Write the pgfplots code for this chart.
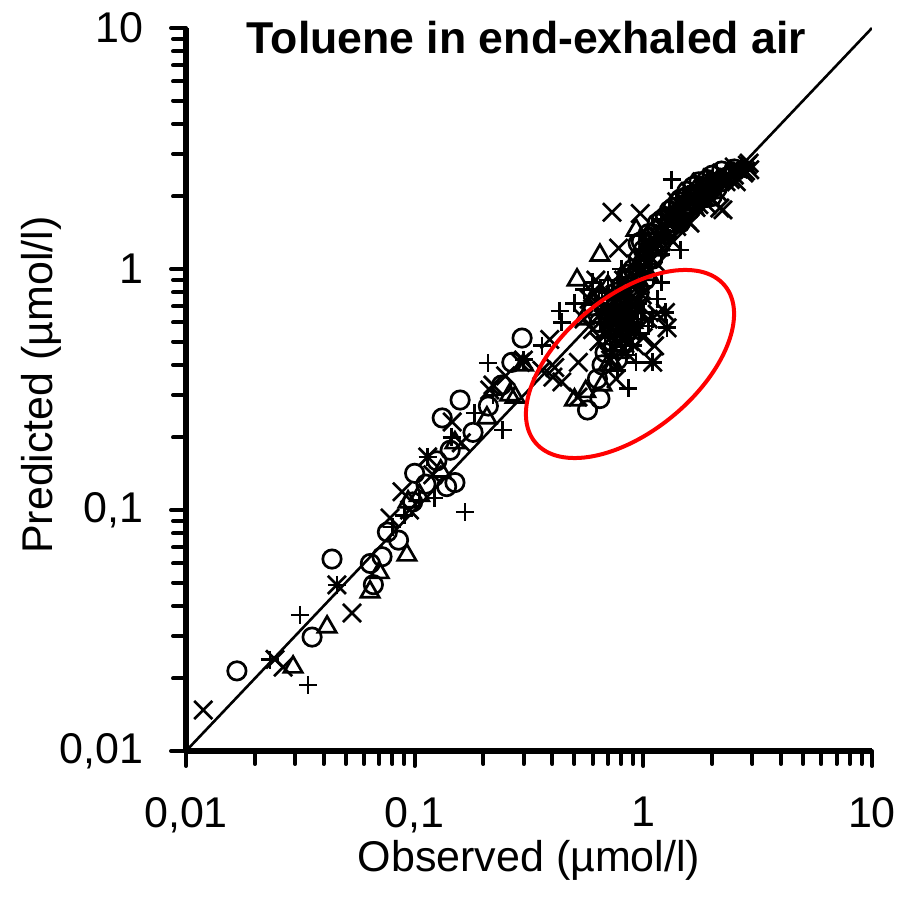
\documentclass[border=0pt]{standalone}
\usepackage{fontspec}
\setmainfont{Liberation Sans}
\usepackage{pgfplots}
\pgfplotsset{compat=1.18}
\newcommand{\lblfont}{\fontsize{21.5}{24}\selectfont}
\begin{document}
\begin{tikzpicture}
\useasboundingbox (0,0) rectangle (458.5pt,450.5pt);
\begin{axis}[
  at={(93pt,75pt)}, anchor=south west,
  scale only axis, width=343pt, height=361.5pt,
  xmode=log, ymode=log,
  xmin=0.01, xmax=10, ymin=0.01, ymax=10,
  axis lines*=left,
  axis line style={line width=2.6pt},
  every outer x axis line/.append style={line width=2.6pt},
  every outer y axis line/.append style={line width=2.6pt},
  tick align=outside,
  major tick length=7.5pt, minor tick length=6.5pt,
  tick style={black, line width=2pt, line cap=round},
  major tick style={black, line width=2pt, line cap=round},
  minor tick style={black, line width=2pt, line cap=round},
  xtick={0.01,0.1,1,10}, xticklabels={{0,01},{0,1},1,10},
  ytick={0.01,0.1,1,10}, yticklabels={{0,01},{0,1},1,10},
  minor xtick={0.02,0.03,0.04,0.05,0.06,0.07,0.08,0.09,0.2,0.3,0.4,0.5,0.6,0.7,0.8,0.9,2,3,4,5,6,7,8,9},
  minor ytick={0.02,0.03,0.04,0.05,0.06,0.07,0.08,0.09,0.2,0.3,0.4,0.5,0.6,0.7,0.8,0.9,2,3,4,5,6,7,8,9},
  tick label style={font=\lblfont},
  xticklabel style={anchor=north, yshift=-12pt},
  yticklabel style={anchor=east, xshift=-10.5pt},
]
\addplot[black, line width=1.3pt, mark=none] coordinates {(0.01,0.01) (10,10)};
% circles
\addplot[only marks, mark=o, mark size=4.6pt, mark options={black, line width=1.35pt, fill=none}] coordinates {
(0.0167,0.0215) (0.0356,0.0297) (0.0435,0.0626) (0.064,0.060) (0.066,0.049) (0.072,0.064)
(0.076,0.081) (0.085,0.075) (0.098,0.108) (0.100,0.142) (0.112,0.128) (0.125,0.16)
(0.132,0.241) (0.138,0.125) (0.143,0.177) (0.150,0.130) (0.158,0.286) (0.18,0.21)
(0.21,0.27) (0.24,0.33) (0.266,0.41) (0.295,0.517)
(0.57,0.26) (0.646,0.29) (0.63,0.35) (0.66,0.40) (0.68,0.45) (0.70,0.50) (0.72,0.56)
(0.74,0.47) (0.75,0.64) (0.77,0.42) (0.78,0.52) (0.80,0.58) (0.82,0.75) (0.84,0.66)
(0.86,0.55) (0.88,0.82) (0.90,0.70) (0.92,0.95) (0.95,1.28) (0.96,0.80) (1.0,1.05)
(1.02,0.90) (1.05,1.2)
(0.80,0.85) (0.85,0.95) (0.9,1.0) (0.95,1.1) (1.0,1.2) (1.05,1.3) (1.1,1.4) (1.2,1.3)
(1.3,1.5) (1.4,1.6) (1.5,1.7) (1.6,1.85) (1.7,1.9) (1.8,2.2) (2.0,2.0) (2.1,2.15) (2.3,2.4)
(0.72,0.65) (0.76,0.72) (0.8,0.66) (0.74,0.58) (0.86,0.62) (0.9,0.78) (0.84,0.9) (0.76,0.80)
(0.7,0.62) (0.68,0.7) (0.64,0.6)
(1.25,1.65) (1.35,1.8) (1.45,1.95) (1.55,2.1) (1.65,2.2) (1.75,2.3) (1.9,2.35) (2.0,2.45)
(2.2,2.55) (2.5,2.6) (1.15,1.55) (1.05,1.4) (0.98,1.3)
(1.08,1.35) (1.1,1.10) (1.15,1.45) (1.18,1.25) (1.2,1.6) (1.25,1.40) (1.3,1.75)
(1.32,1.55) (1.38,1.65) (1.42,1.90) (1.45,1.55) (1.5,1.80) (1.55,2.0) (1.6,1.75)
(1.65,1.95) (1.7,2.05) (1.8,2.0) (1.85,2.15) (1.95,2.10) (2.05,2.25) (2.2,2.3) (2.4,2.45)
};
% triangles
\addplot[only marks, mark=triangle, mark size=5.3pt, mark options={black, line width=1.35pt, fill=none}] coordinates {
(0.0294,0.0223) (0.0414,0.0327) (0.0638,0.0457) (0.070,0.055) (0.0925,0.065) (0.0936,0.108)
(0.105,0.115) (0.13,0.145) (0.15,0.19) (0.207,0.241) (0.275,0.294) (0.299,0.40) (0.26,0.30)
(0.50,0.286) (0.56,0.31) (0.66,0.33) (0.70,0.40) (0.74,0.55) (0.78,0.62) (0.82,0.48)
(0.86,0.70) (0.90,0.60) (0.513,0.90) (0.646,1.14) (0.93,1.45) (0.98,1.10) (1.05,0.95)
(0.72,0.62) (0.8,0.7) (0.84,0.58) (0.88,0.8) (0.95,0.9) (0.7,0.85) (0.6,0.75) (1.0,1.15)
(1.15,1.2) (1.25,1.35) (1.45,1.6) (1.65,1.8) (0.78,0.45) (0.74,0.40) (0.58,0.68) (0.55,0.62)
(1.1,1.30) (1.2,1.40) (1.3,1.50) (1.4,1.70) (1.55,1.85) (1.7,1.95) (1.9,2.2) (2.1,2.3)
};
% plus
\addplot[only marks, mark=+, mark size=4.5pt, mark options={black, line width=1.35pt}] coordinates {
(0.0233,0.0239) (0.0315,0.0367) (0.0342,0.0188) (0.0457,0.0489) (0.080,0.085) (0.090,0.095)
(0.105,0.110) (0.114,0.166) (0.122,0.112) (0.145,0.20) (0.166,0.098) (0.183,0.253)
(0.209,0.407) (0.22,0.30) (0.243,0.215) (0.30,0.42) (0.36,0.48) (0.43,0.67) (0.44,0.60)
(0.50,0.72) (0.55,0.82) (0.60,0.88) (0.62,0.72) (0.65,0.60) (0.68,0.52) (0.70,0.80)
(0.72,0.46) (0.74,0.66) (0.76,0.58) (0.77,0.38) (0.79,0.75) (0.80,0.50) (0.82,0.64)
(0.84,0.44) (0.86,0.32) (0.87,0.70) (0.88,0.56) (0.90,0.48) (0.93,0.41) (0.94,0.62)
(0.96,0.54) (1.0,0.66) (1.05,0.58) (1.1,0.62) (1.2,0.88) (1.15,0.75) (1.0,0.85)
(1.25,0.66) (1.27,0.57) (1.1,0.41)
(0.75,0.70) (0.78,0.62) (0.81,0.56) (0.83,0.78) (0.85,0.60) (0.89,0.66) (0.91,0.58)
(0.95,0.72) (0.98,0.62) (0.72,0.58) (0.7,0.68) (0.66,0.75) (0.64,0.82) (0.7,0.9) (0.78,0.9)
(0.85,0.85) (0.92,0.88) (1.0,0.95) (0.9,1.0) (0.8,1.0) (1.15,1.3) (1.25,1.5) (1.4,1.55)
(1.6,1.7) (1.75,2.0) (2.1,2.25) (2.3,2.4) (2.5,2.5) (2.7,2.65)
(1.5,2.0) (1.7,2.2) (1.9,2.35) (2.1,2.5) (2.4,2.6) (2.7,2.7) (1.3,1.75) (1.2,1.6)
(1.05,1.05) (1.1,1.2) (1.2,1.15) (1.3,1.35) (1.33,2.35) (1.45,1.20) (1.5,1.65) (1.6,1.9)
(1.7,1.85) (1.8,2.1) (1.9,1.95) (2.0,2.2) (2.2,2.35) (2.4,2.4) (2.6,2.55) (2.8,2.6)
};
% crosses
\addplot[only marks, mark=x, mark size=6.4pt, mark options={black, line width=1.35pt}] coordinates {
(0.0119,0.0148) (0.0245,0.0240) (0.0266,0.0223) (0.0457,0.0489) (0.0532,0.0374) (0.078,0.0927)
(0.088,0.119) (0.095,0.10) (0.114,0.166) (0.120,0.14) (0.146,0.232) (0.16,0.19)
(0.213,0.315) (0.22,0.33) (0.25,0.36) (0.29,0.41) (0.299,0.419) (0.36,0.38) (0.39,0.51)
(0.402,0.356) (0.41,0.39) (0.44,0.34) (0.52,0.41) (0.518,0.294) (0.55,0.62) (0.60,0.56)
(0.64,0.50) (0.67,0.70) (0.70,0.60) (0.72,0.42) (0.73,1.72) (0.75,0.78) (0.76,0.35)
(0.77,0.50) (0.78,1.22) (0.80,0.68) (0.82,0.58) (0.84,0.45) (0.86,0.74) (0.88,0.55)
(0.90,0.64) (0.92,0.48) (0.95,0.85) (0.97,1.70) (0.98,0.70) (1.0,0.52) (1.05,0.62)
(1.1,0.41) (1.12,0.48) (1.15,0.65) (1.25,0.66) (1.27,0.57)
(0.74,0.62) (0.79,0.56) (0.83,0.66) (0.87,0.50) (0.91,0.72) (0.94,0.56) (0.99,0.78)
(0.72,0.52) (0.69,0.78) (0.66,0.66) (0.63,0.72) (0.6,0.8) (0.82,0.9) (0.88,0.95) (0.93,1.05)
(1.05,1.15) (1.2,1.3) (1.3,1.6) (1.4,1.5) (1.5,1.9) (1.7,1.8) (1.85,2.0) (2.1,2.1)
(2.4,2.35) (2.7,2.55) (2.55,2.3) (2.9,2.75) (0.58,0.75) (0.62,0.9)
(1.4,1.9) (1.6,2.1) (1.8,2.3) (2.0,2.4) (2.2,2.5) (2.5,2.65) (2.8,2.55) (1.9,1.85) (1.6,1.55)
(1.0,1.1) (1.08,1.25) (1.15,1.05) (1.25,1.45) (1.35,1.30) (1.45,1.75) (1.55,1.60)
(1.65,2.0) (1.75,1.85) (1.9,2.15) (2.0,1.95) (2.16,1.79) (2.23,1.76) (2.3,2.3) (2.5,2.45)
(2.6,2.6) (2.75,2.5) (2.92,2.58) (2.85,2.7)
};
\end{axis}
\node[anchor=base, font=\fontsize{22.3}{25}\selectfont\bfseries] at (263.25pt,423.5pt) {Toluene in end-exhaled air};
\node[anchor=base, font=\lblfont] at (264.5pt,15pt) {Observed (µmol/l)};
\node[anchor=base, rotate=90, font=\lblfont] at (26.5pt,258pt) {Predicted (µmol/l)};
\draw[red, line width=2pt, rotate around={39.6:(315pt,268.5pt)}] (315pt,268.5pt) ellipse [x radius=61.5pt, y radius=33.7pt];
\end{tikzpicture}
\end{document}
